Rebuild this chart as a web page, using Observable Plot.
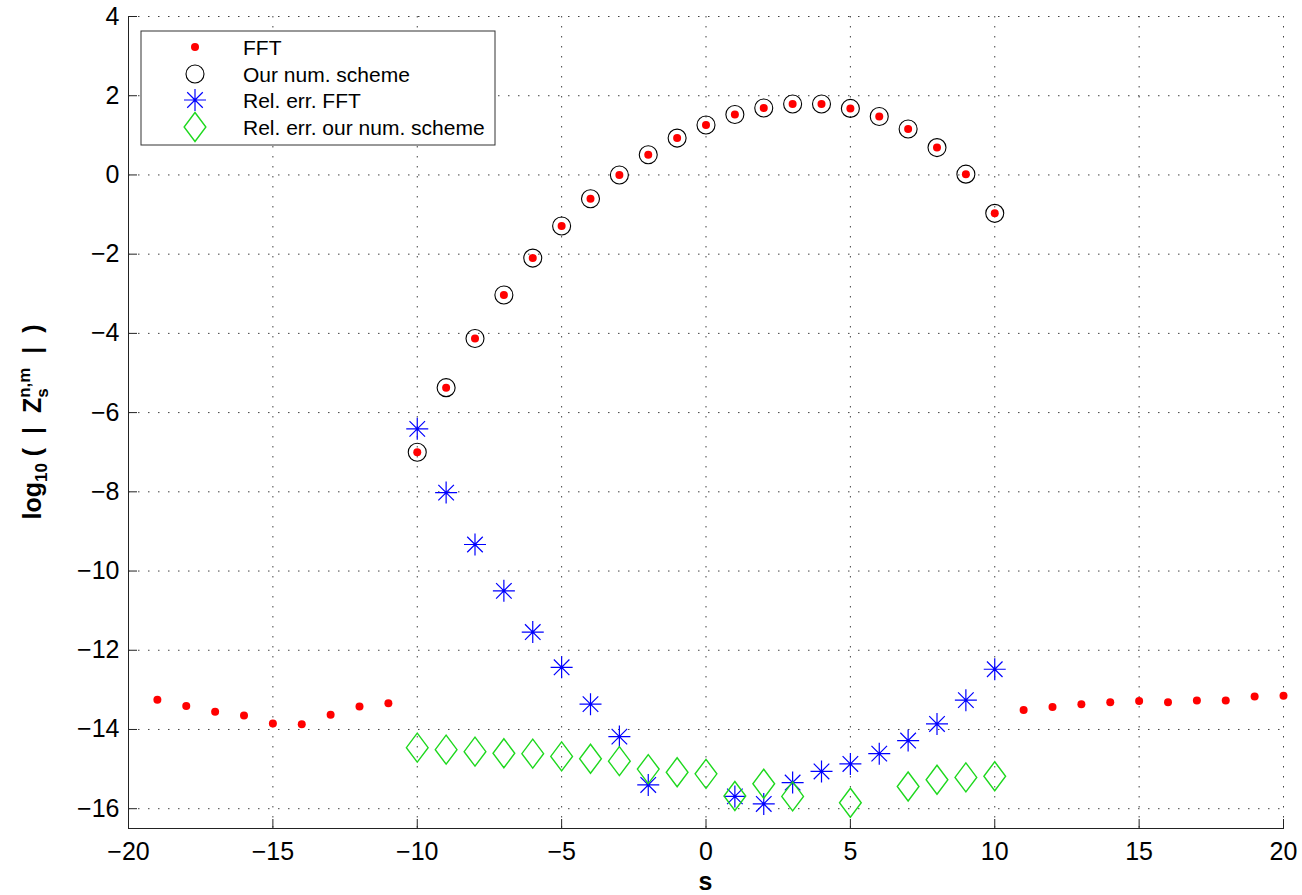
<!DOCTYPE html>
<html><head><meta charset="utf-8">
<script src="https://cdn.jsdelivr.net/npm/d3@7"></script>
<script src="https://cdn.jsdelivr.net/npm/@observablehq/plot@0.6"></script>
<style>
html,body{margin:0;padding:0;background:#fff;}
#chart svg{display:block;}
</style></head><body><div id="chart"></div>
<script>
// ---- data ----
const fftS = [-19,-18,-17,-16,-15,-14,-13,-12,-11,-10,-9,-8,-7,-6,-5,-4,-3,-2,-1,0,1,2,3,4,5,6,7,8,9,10,11,12,13,14,15,16,17,18,19,20];
const fftVal = [-13.25,-13.41,-13.55,-13.65,-13.85,-13.87,-13.63,-13.42,-13.34,
  -7.0,-5.37,-4.13,-3.03,-2.1,-1.29,-0.6,0.0,0.51,0.93,1.26,1.525,1.69,1.79,1.79,1.68,1.475,1.16,0.69,0.02,-0.97,
  -13.51,-13.43,-13.36,-13.31,-13.28,-13.31,-13.27,-13.27,-13.17,-13.15];
const schemeS = [-10,-9,-8,-7,-6,-5,-4,-3,-2,-1,0,1,2,3,4,5,6,7,8,9,10];
const schemeVal = [-7.0,-5.37,-4.13,-3.03,-2.1,-1.29,-0.6,0.0,0.51,0.93,1.26,1.525,1.69,1.79,1.79,1.68,1.475,1.16,0.69,0.02,-0.97];
const relFftS = [-10,-9,-8,-7,-6,-5,-4,-3,-2,1,2,3,4,5,6,7,8,9,10];
const relFftVal = [-6.41,-8.02,-9.33,-10.5,-11.54,-12.43,-13.36,-14.18,-15.40,-15.69,-15.88,-15.34,-15.06,-14.87,-14.61,-14.28,-13.86,-13.26,-12.48];
const relSchS = [-10,-9,-8,-7,-6,-5,-4,-3,-2,-1,0,1,2,3,5,7,8,9,10];
const relSchVal = [-14.46,-14.51,-14.56,-14.6,-14.61,-14.68,-14.74,-14.8,-15.0,-15.08,-15.12,-15.68,-15.37,-15.69,-15.85,-15.44,-15.27,-15.21,-15.18];
const xTicks = [-20,-15,-10,-5,0,5,10,15,20];
const yTicks = [-16,-14,-12,-10,-8,-6,-4,-2,0,2,4];
const legendLabels = ["FFT","Our num. scheme","Rel. err. FFT","Rel. err. our num. scheme"];

// ---- tables ----
const fft = fftS.map((s,i)=>({s, v: fftVal[i]}));
const scheme = schemeS.map((s,i)=>({s, v: schemeVal[i]}));
const relFft = relFftS.map((s,i)=>({s, v: relFftVal[i]}));
const relSch = relSchS.map((s,i)=>({s, v: relSchVal[i]}));

// ---- custom symbols ----
const star = {draw(ctx, size){ const r = Math.sqrt(size/Math.PI); const d = r*Math.SQRT1_2;
  ctx.moveTo(-r,0); ctx.lineTo(r,0); ctx.moveTo(0,-r); ctx.lineTo(0,r);
  ctx.moveTo(-d,-d); ctx.lineTo(d,d); ctx.moveTo(-d,d); ctx.lineTo(d,-d); }};
const diamond = {draw(ctx, size){ const r = Math.sqrt(size/Math.PI); const w = r*0.75;
  ctx.moveTo(0,-r); ctx.lineTo(w,0); ctx.lineTo(0,r); ctx.lineTo(-w,0); ctx.closePath(); }};

const W = 1302, H = 895, mL = 128, mR = 19, mT = 16, mB = 67;
const plotW = W - mL - mR, plotH = H - mT - mB;
const TICKFS = 25;
const fmt = d => d < 0 ? "\u2212" + (-d) : String(d);
const FONT = "'Liberation Sans', Arial, Helvetica, sans-serif";
const gridStyle = {stroke: "#000", strokeOpacity: 0.75, strokeDasharray: "1.5,8.5", strokeWidth: 1};

const chart = Plot.plot({
  width: W, height: H,
  marginLeft: mL, marginRight: mR, marginTop: mT, marginBottom: mB,
  style: {fontFamily: FONT, fontSize: TICKFS + "px", color: "#000", background: "#fff"},
  x: {domain: [-20, 20]},
  y: {domain: [-16.5, 4]},
  marks: [
    Plot.gridX(xTicks.slice(1), gridStyle),
    Plot.gridY(yTicks, gridStyle),
    Plot.axisX(xTicks, {tickSize: 0, tickPadding: 14, tickFormat: fmt, label: null, fontSize: TICKFS}),
    Plot.axisY(yTicks, {tickSize: 0, tickPadding: 9, tickFormat: fmt, label: null, fontSize: TICKFS}),
    Plot.tickX(xTicks, {x: d => d, insetTop: plotH - 9, stroke: "#222"}),
    Plot.tickY(yTicks, {y: d => d, insetRight: plotW - 9, stroke: "#222"}),
    Plot.frame({anchor: "left", stroke: "#222"}),
    Plot.frame({anchor: "bottom", stroke: "#222"}),
    Plot.dot(scheme, {x: "s", y: "v", r: 9, symbol: "circle", stroke: "#000", fill: "none", strokeWidth: 1.1}),
    Plot.dot(fft, {x: "s", y: "v", r: 4, symbol: "circle", fill: "#ff0000", stroke: "none"}),
    Plot.dot(relFft, {x: "s", y: "v", r: 11, symbol: star, stroke: "#0000ff", fill: "none", strokeWidth: 1.2}),
    Plot.dot(relSch, {x: "s", y: "v", r: 14.5, symbol: diamond, stroke: "#1ed81e", fill: "none", strokeWidth: 1.4})
  ]
});
document.getElementById("chart").appendChild(chart);

const svg = d3.select(chart);
svg.selectAll('g[aria-label="x-axis tick label"], g[aria-label="y-axis tick label"]')
  .attr("font-size", TICKFS).selectAll("text").attr("font-size", TICKFS).style("font-size", TICKFS + "px");

// y axis title
const yt = svg.append("g").attr("transform", `translate(41,${mT + plotH/2}) rotate(-90)`)
  .append("text").attr("text-anchor", "middle").attr("font-weight", "bold")
  .attr("font-size", 25).attr("font-family", FONT).attr("fill", "#000");
yt.append("tspan").text("log");
yt.append("tspan").attr("font-size", 17).attr("dy", 6).text("10");
yt.append("tspan").attr("dy", -6).text("\u00a0(\u00a0\u00a0|\u00a0\u00a0Z");
yt.append("tspan").attr("font-size", 17).attr("dy", 7).text("s");
yt.append("tspan").attr("font-size", 17).attr("dx", -9.5).attr("dy", -18).text("n,m");
yt.append("tspan").attr("dy", 11).text("\u00a0\u00a0|\u00a0\u00a0)");

// x axis title
svg.append("text").attr("x", mL + plotW/2).attr("y", 890).attr("text-anchor", "middle")
  .attr("font-weight", "bold").attr("font-size", 25).attr("font-family", FONT).attr("fill", "#000").text("s");

// legend
const lg = svg.append("g").attr("font-family", FONT).attr("font-size", 21).attr("text-anchor", "start");
lg.append("rect").attr("x", 141).attr("y", 31).attr("width", 354).attr("height", 114)
  .attr("fill", "#fff").attr("stroke", "#333").attr("stroke-width", 1);
const rowsY = [47, 74, 100, 127];
const mx = 195;
lg.append("circle").attr("cx", mx).attr("cy", rowsY[0]).attr("r", 4).attr("fill", "#ff0000");
lg.append("circle").attr("cx", mx).attr("cy", rowsY[1]).attr("r", 9).attr("fill", "none").attr("stroke", "#000").attr("stroke-width", 1.1);
lg.append("path").attr("transform", `translate(${mx},${rowsY[2]})`).attr("d", d3.symbol(star, Math.PI*121)())
  .attr("fill", "none").attr("stroke", "#0000ff").attr("stroke-width", 1.2);
lg.append("path").attr("transform", `translate(${mx},${rowsY[3]})`).attr("d", d3.symbol(diamond, Math.PI*14.5*14.5)())
  .attr("fill", "none").attr("stroke", "#1ed81e").attr("stroke-width", 1.4);
legendLabels.forEach((t, i) => {
  lg.append("text").attr("x", 243).attr("y", rowsY[i] + 7.5).attr("text-anchor", "start").attr("fill", "#000").text(t);
});
</script></body></html>
